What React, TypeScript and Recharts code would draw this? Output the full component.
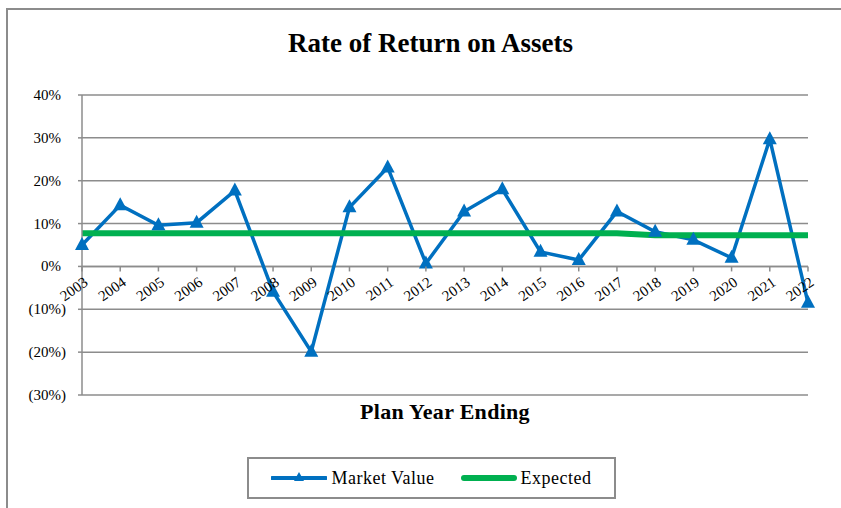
import { CartesianGrid, Line, LineChart, ReferenceLine, XAxis, YAxis } from "recharts";

const years = [
  "2003", "2004", "2005", "2006", "2007", "2008", "2009", "2010", "2011", "2012",
  "2013", "2014", "2015", "2016", "2017", "2018", "2019", "2020", "2021", "2022",
];
const marketValue = [
  5.0, 14.3, 9.6, 10.2, 17.7, -5.9, -19.9, 13.8, 23.1, 0.7,
  12.8, 18.0, 3.4, 1.5, 12.8, 8.1, 6.2, 2.0, 29.7, -8.5,
];
const expected = [
  7.75, 7.75, 7.75, 7.75, 7.75, 7.75, 7.75, 7.75, 7.75, 7.75,
  7.75, 7.75, 7.75, 7.75, 7.75, 7.25, 7.25, 7.25, 7.25, 7.25,
];
const yTicks = [-30, -20, -10, 0, 10, 20, 30, 40];

const W = 841;
const H = 508;
const MARGIN = { top: 95, right: 33, left: 12, bottom: 83 };
const Y_AXIS_W = 70;
const X_AXIS_H = 30;
const PLOT_H = H - MARGIN.top - MARGIN.bottom - X_AXIS_H;
const Y_MIN = -30;
const Y_MAX = 40;
const ZERO_Y = MARGIN.top + (PLOT_H * (Y_MAX - 0)) / (Y_MAX - Y_MIN);

const GRID = "#8c8c8c";
const BLUE = "#0070c0";
const GREEN = "#00b050";
const FONT = '"Liberation Serif", "Times New Roman", serif';

const rows = years.map((year, i) => ({
  year,
  market: marketValue[i],
  expected: expected[i],
}));

function YearTick(props: any) {
  const { x, payload } = props;
  const ax = x + 7;
  const ay = ZERO_Y + 18;
  return (
    <g>
      <line x1={x} x2={x} y1={ZERO_Y} y2={ZERO_Y + 5} stroke={GRID} strokeWidth={1.5} />
      <text
        x={ax}
        y={ay}
        transform={`rotate(-35 ${ax} ${ay})`}
        textAnchor="end"
        style={{ fontFamily: FONT, fontSize: 15 }}
        fill="#000"
      >
        {payload.value}
      </text>
    </g>
  );
}

function PctTick(props: any) {
  const { x, y, payload } = props;
  const v = payload.value as number;
  const label = v < 0 ? `(${-v}%)` : `${v}%`;
  return (
    <text
      x={v < 0 ? x : x - 5}
      y={y}
      dy={5}
      textAnchor="end"
      style={{ fontFamily: FONT, fontSize: 15 }}
      fill="#000"
    >
      {label}
    </text>
  );
}

function Triangle(props: any) {
  const { cx, cy } = props;
  if (cx == null || cy == null) return null;
  return <path d={`M${cx},${cy - 8} L${cx + 7},${cy + 5} L${cx - 7},${cy + 5} Z`} fill={BLUE} />;
}

function LegendBox() {
  return (
    <div
      style={{
        position: "absolute",
        left: 247,
        top: 457,
        width: 365,
        height: 38,
        border: `2px solid ${GRID}`,
        display: "flex",
        alignItems: "center",
        justifyContent: "center",
        gap: 26,
        fontFamily: FONT,
        fontSize: 18,
        letterSpacing: 0.5,
        color: "#000",
        background: "#fff",
      }}
    >
      <span style={{ display: "flex", alignItems: "center", gap: 4 }}>
        <svg width={56} height={14}>
          <line x1={1} x2={55} y1={7} y2={7} stroke={BLUE} strokeWidth={4} strokeLinecap="round" />
          <path d="M28,1 L33,10 L23,10 Z" fill={BLUE} />
        </svg>
        Market Value
      </span>
      <span style={{ display: "flex", alignItems: "center", gap: 4 }}>
        <svg width={56} height={14}>
          <line x1={3} x2={53} y1={7} y2={7} stroke={GREEN} strokeWidth={6} strokeLinecap="round" />
        </svg>
        Expected
      </span>
    </div>
  );
}

export default function App() {
  return (
    <div
      style={{
        position: "absolute",
        left: 0,
        top: 0,
        width: W,
        height: H,
        overflow: "hidden",
        background: "#fff",
        fontFamily: FONT,
      }}
    >
      <div
        style={{
          position: "absolute",
          left: 6,
          top: 8,
          width: 900,
          height: 600,
          border: `2px solid ${GRID}`,
        }}
      />
      <div
        style={{
          position: "absolute",
          left: 10,
          top: 27,
          width: W,
          textAlign: "center",
          fontWeight: 700,
          fontSize: 27,
          lineHeight: "32px",
        }}
      >
        Rate of Return on Assets
      </div>
      <div
        style={{
          position: "absolute",
          left: 0,
          top: 399,
          width: 890,
          textAlign: "center",
          fontWeight: 700,
          fontSize: 22,
          lineHeight: "26px",
          letterSpacing: 0.3,
        }}
      >
        Plan Year Ending
      </div>
      <div style={{ position: "absolute", left: 0, top: 0 }}>
        <LineChart width={W} height={H} data={rows} margin={MARGIN}>
          <CartesianGrid horizontal vertical={false} stroke={GRID} strokeWidth={1.5} />
          <XAxis
            dataKey="year"
            height={X_AXIS_H}
            axisLine={false}
            tickLine={false}
            interval={0}
            tick={<YearTick />}
          />
          <YAxis
            width={Y_AXIS_W}
            domain={[Y_MIN, Y_MAX]}
            ticks={yTicks}
            interval={0}
            axisLine={{ stroke: GRID, strokeWidth: 1.5 }}
            tickLine={{ stroke: GRID, strokeWidth: 1.5 }}
            tickSize={4}
            tickMargin={12}
            tick={<PctTick />}
          />
          <ReferenceLine y={0} stroke={GRID} strokeWidth={1.5} />
          <Line
            dataKey="market"
            name="Market Value"
            stroke={BLUE}
            strokeWidth={3.5}
            dot={<Triangle />}
            activeDot={false}
            isAnimationActive={false}
          />
          <Line
            dataKey="expected"
            name="Expected"
            stroke={GREEN}
            strokeWidth={6}
            dot={false}
            activeDot={false}
            isAnimationActive={false}
          />
        </LineChart>
      </div>
      <LegendBox />
    </div>
  );
}
